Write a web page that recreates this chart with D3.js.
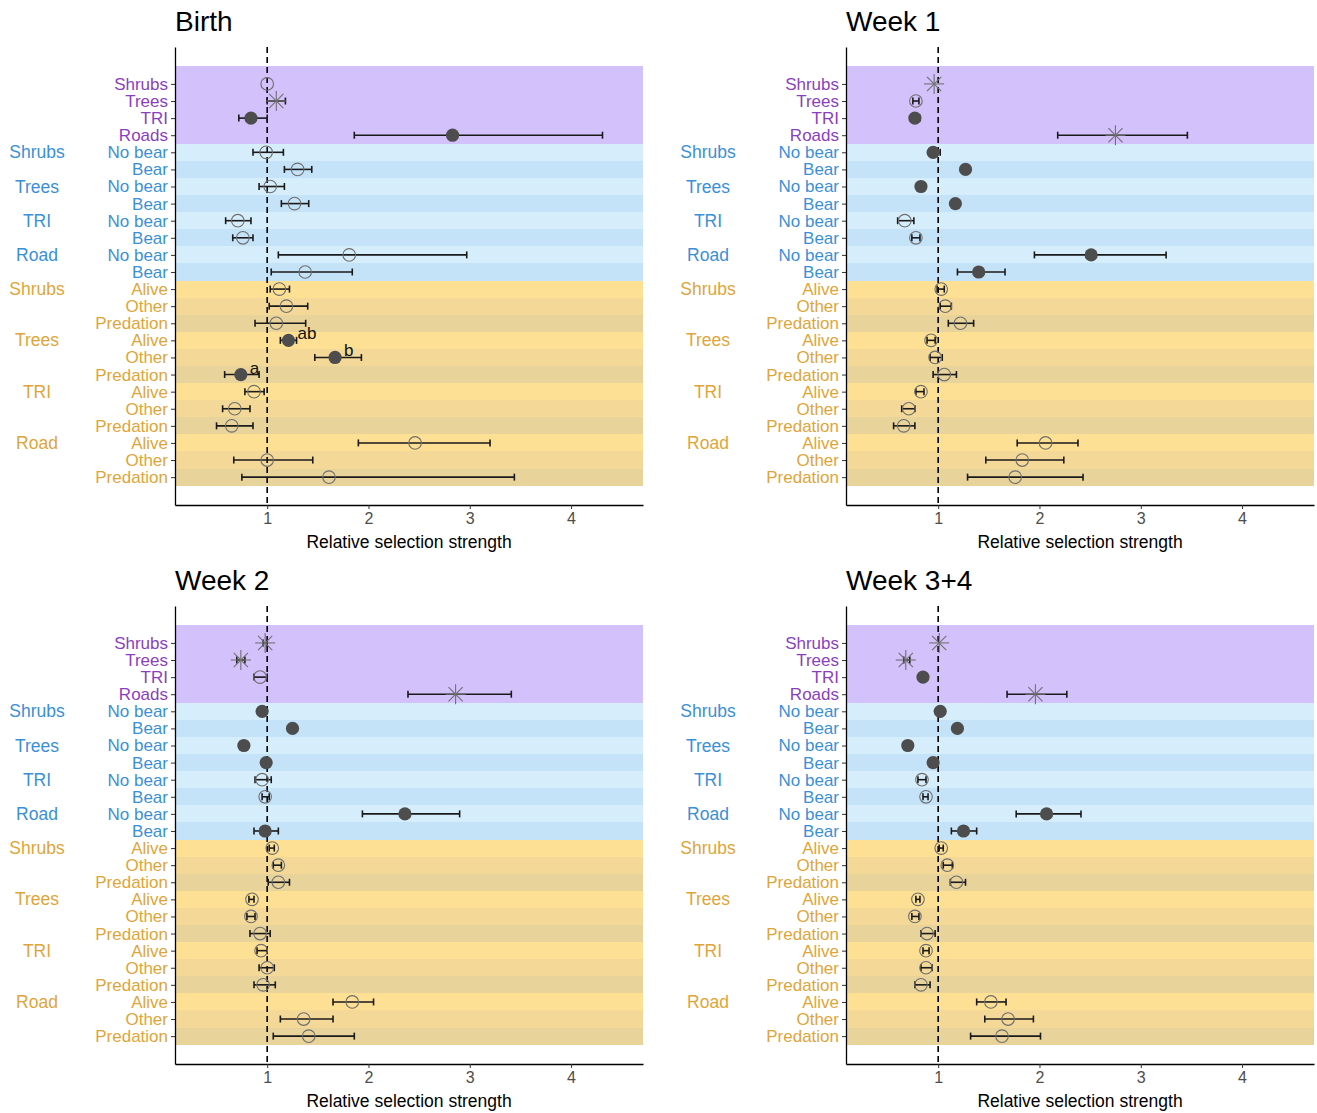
<!DOCTYPE html>
<html><head><meta charset="utf-8">
<script src="https://cdn.jsdelivr.net/npm/d3@7"></script>
<style>body{margin:0;background:#fff}svg text{font-family:"Liberation Sans",Arial,sans-serif}</style>
</head><body><svg id="c" width="1317" height="1113"></svg>
<script>
// ---------- data ----------
const rowLabels = ["Shrubs","Trees","TRI","Roads",
  "No bear","Bear","No bear","Bear","No bear","Bear","No bear","Bear",
  "Alive","Other","Predation","Alive","Other","Predation","Alive","Other","Predation","Alive","Other","Predation"];
const rowSection = ["p","p","p","p","b","b","b","b","b","b","b","b","o","o","o","o","o","o","o","o","o","o","o","o"];
const groupLabels = ["Shrubs","Trees","TRI","Road","Shrubs","Trees","TRI","Road"];
const groupRows = [4,6,8,10,12,15,18,21];
const panelTitles = ["Birth","Week 1","Week 2","Week 3+4"];
const xTicks = [1,2,3,4];

const birthEst = [1.00,1.09,0.84,2.83, 0.99,1.30,1.03,1.27,0.71,0.76,1.81,1.375, 1.12,1.19,1.09,1.21,1.67,0.74,0.87,0.68,0.65,2.46,1.00,1.61];
const birthLo  = [null,1.00,0.72,1.86, 0.86,1.17,0.92,1.14,0.59,0.66,1.11,1.04, 1.03,1.02,0.88,1.13,1.47,0.58,0.78,0.56,0.50,1.90,0.67,0.75];
const birthHi  = [null,1.18,1.00,4.31, 1.16,1.44,1.17,1.41,0.84,0.86,2.97,1.84, 1.22,1.40,1.38,1.29,1.93,0.92,0.97,0.83,0.86,3.20,1.45,3.44];
const birthShape = ["o","x","f","f", "o","o","o","o","o","o","o","o", "o","o","o","f","f","f","o","o","o","o","o","o"];
const birthNotes = [null,null,null,null, null,null,null,null,null,null,null,null, null,null,null,"ab","b","a",null,null,null,null,null,null];

const week1Est = [0.96,0.78,0.77,2.75, 0.95,1.27,0.83,1.17,0.67,0.78,2.51,1.40, 1.03,1.07,1.22,0.93,0.97,1.06,0.83,0.71,0.66,2.06,1.83,1.76];
const week1Lo  = [null,0.75,0.73,2.18, 0.91,null,null,null,0.60,0.74,1.95,1.19, 0.99,1.02,1.10,0.89,0.92,0.95,0.78,0.64,0.56,1.78,1.47,1.29];
const week1Hi  = [null,0.81,0.82,3.46, 1.02,null,null,null,0.76,0.82,3.25,1.66, 1.06,1.13,1.35,0.97,1.04,1.18,0.86,0.77,0.77,2.38,2.24,2.43];
const week1Shape = ["x","o","f","x", "f","f","f","f","o","o","f","f", "o","o","o","o","o","o","o","o","o","o","o","o"];

const week2Est = [0.98,0.74,0.93,2.86, 0.95,1.25,0.77,0.99,0.95,0.98,2.36,0.98, 1.05,1.11,1.11,0.85,0.84,0.93,0.94,1.00,0.96,1.84,1.36,1.41];
const week2Lo  = [0.96,0.70,0.87,2.39, null,null,null,null,0.88,0.95,1.94,0.87, 1.02,1.06,1.01,0.82,0.80,0.83,0.90,0.92,0.87,1.65,1.13,1.06];
const week2Hi  = [1.00,0.78,1.00,3.41, null,null,null,null,1.04,1.02,2.90,1.11, 1.07,1.14,1.22,0.87,0.88,1.03,1.00,1.07,1.08,2.05,1.65,1.86];
const week2Shape = ["x","x","o","x", "f","f","f","f","o","o","f","f", "o","o","o","o","o","o","o","o","o","o","o","o"];

const week34Est = [1.01,0.68,0.85,1.96, 1.02,1.19,0.70,0.95,0.84,0.88,2.07,1.25, 1.03,1.09,1.18,0.80,0.77,0.89,0.88,0.88,0.83,1.52,1.69,1.63];
const week34Lo  = [null,0.66,null,1.68, null,null,null,null,0.80,0.85,1.77,1.13, 1.01,1.05,1.12,0.78,0.74,0.83,0.85,0.83,0.77,1.38,1.46,1.32];
const week34Hi  = [null,0.72,null,2.27, null,null,null,null,0.88,0.90,2.41,1.38, 1.05,1.14,1.27,0.82,0.81,0.97,0.91,0.94,0.92,1.67,1.94,2.01];
const week34Shape = ["x","x","f","x", "f","f","f","f","o","o","f","f", "o","o","o","o","o","o","o","o","o","o","o","o"];

// ---------- styling ----------
const textColor = {p:"#8a3fc0", b:"#3a90d8", o:"#dfa53a"};
function bandColor(i){
  const s = rowSection[i], l = rowLabels[i];
  if (s==="p") return "#d3c1fb";
  if (s==="b") return l==="No bear" ? "#d6eefc" : "#c5e3f8";
  if (l==="Alive") return "#fde093";
  if (l==="Other") return "#f3d898";
  return "#e8d39a";
}

const panels = [
  {title:panelTitles[0], est:birthEst, lo:birthLo, hi:birthHi, shape:birthShape, notes:birthNotes, ox:0, oy:0},
  {title:panelTitles[1], est:week1Est, lo:week1Lo, hi:week1Hi, shape:week1Shape, notes:null, ox:671, oy:0},
  {title:panelTitles[2], est:week2Est, lo:week2Lo, hi:week2Hi, shape:week2Shape, notes:null, ox:0, oy:559},
  {title:panelTitles[3], est:week34Est, lo:week34Lo, hi:week34Hi, shape:week34Shape, notes:null, ox:671, oy:559}
];

const svg = d3.select("#c");
const rows = d3.range(rowLabels.length);

panels.forEach(P => {
  const g = svg.append("g").attr("transform", `translate(${P.ox},${P.oy})`);
  const x = d3.scaleLinear().domain([0.09, 4.71]).range([175, 643]);
  const y = d3.scaleLinear().domain([-2.16, 24.63]).range([47, 505]);

  // bands
  g.append("g").attr("shape-rendering", "crispEdges")
    .selectAll("rect").data(rows).join("rect")
    .attr("x", x(0.09)).attr("width", x(4.71) - x(0.09))
    .attr("y", i => i===0 ? y(-1.05) : y(i-0.5))
    .attr("height", i => i===0 ? y(0.5)-y(-1.05) : y(i+0.5)-y(i-0.5))
    .attr("fill", bandColor);

  // dashed reference line
  g.append("line").attr("x1", x(1)).attr("x2", x(1)).attr("y1", 47).attr("y2", 505)
    .attr("stroke", "#000").attr("stroke-width", 1.6).attr("stroke-dasharray", "6,4");

  // error bars
  const eb = rows.filter(i => P.lo[i] !== null && P.hi[i] !== null);
  const ebG = g.append("g").attr("stroke", "#1a1a1a").attr("stroke-width", 1.6);
  ebG.selectAll("line.h").data(eb).join("line")
    .attr("x1", i => x(P.lo[i])).attr("x2", i => x(P.hi[i]))
    .attr("y1", i => y(i)).attr("y2", i => y(i));
  ebG.selectAll("line.l").data(eb).join("line")
    .attr("x1", i => x(P.lo[i])).attr("x2", i => x(P.lo[i]))
    .attr("y1", i => y(i)-3.5).attr("y2", i => y(i)+3.5);
  ebG.selectAll("line.r").data(eb).join("line")
    .attr("x1", i => x(P.hi[i])).attr("x2", i => x(P.hi[i]))
    .attr("y1", i => y(i)-3.5).attr("y2", i => y(i)+3.5);

  // markers
  rows.forEach(i => {
    const cx = x(P.est[i]), cy = y(i), s = P.shape[i];
    if (s === "o") {
      g.append("circle").attr("cx", cx).attr("cy", cy).attr("r", 6.3)
        .attr("fill", "none").attr("stroke", "#6e6e6e").attr("stroke-width", 1.1);
    } else if (s === "f") {
      g.append("circle").attr("cx", cx).attr("cy", cy).attr("r", 6.6).attr("fill", "#4d4d4d");
    } else {
      const r = 10, d = 7.1;
      const sg = g.append("g").attr("stroke", "#707070").attr("stroke-width", 1.1);
      [[-r,0,r,0],[0,-r,0,r],[-d,-d,d,d],[-d,d,d,-d]].forEach(a =>
        sg.append("line").attr("x1", cx+a[0]).attr("y1", cy+a[1]).attr("x2", cx+a[2]).attr("y2", cy+a[3]));
    }
  });

  // annotations
  if (P.notes) {
    rows.filter(i => P.notes[i]).forEach(i => {
      g.append("text").attr("x", x(P.est[i]) + 9).attr("y", y(i) - 1)
        .attr("font-size", 17).attr("fill", "#111").text(P.notes[i]);
    });
  }

  // axes
  const xa = g.append("g").attr("transform", "translate(0,505)")
    .call(d3.axisBottom(x).tickValues(xTicks).tickFormat(d3.format("d")).tickSize(4).tickSizeOuter(0).tickPadding(4));
  xa.select(".domain").attr("stroke", "#000").attr("stroke-width", 1.3);
  xa.selectAll(".tick line").attr("stroke", "#333");
  xa.selectAll(".tick text").attr("font-size", 16).attr("fill", "#4d4d4d");

  const ya = g.append("g").attr("transform", "translate(175,0)")
    .call(d3.axisLeft(y).tickValues(rows).tickFormat(i => rowLabels[i]).tickSize(4).tickSizeOuter(0).tickPadding(3));
  ya.select(".domain").attr("stroke", "#000").attr("stroke-width", 1.3);
  ya.selectAll(".tick line").attr("stroke", "#333");
  ya.selectAll(".tick text").attr("font-size", 17).attr("fill", i => textColor[rowSection[i]]);

  // group labels
  groupRows.forEach((r, k) => {
    g.append("text").attr("x", 37).attr("y", y(r)).attr("dy", "0.35em")
      .attr("text-anchor", "middle").attr("font-size", 17.5)
      .attr("fill", textColor[rowSection[r]]).text(groupLabels[k]);
  });

  // axis title
  g.append("text").attr("x", (175 + 643) / 2).attr("y", 548)
    .attr("text-anchor", "middle").attr("font-size", 17.5).attr("fill", "#000")
    .text("Relative selection strength");

  // panel title
  g.append("text").attr("x", 175).attr("y", 31).attr("font-size", 28).attr("fill", "#000").text(P.title);
});
</script></body></html>
